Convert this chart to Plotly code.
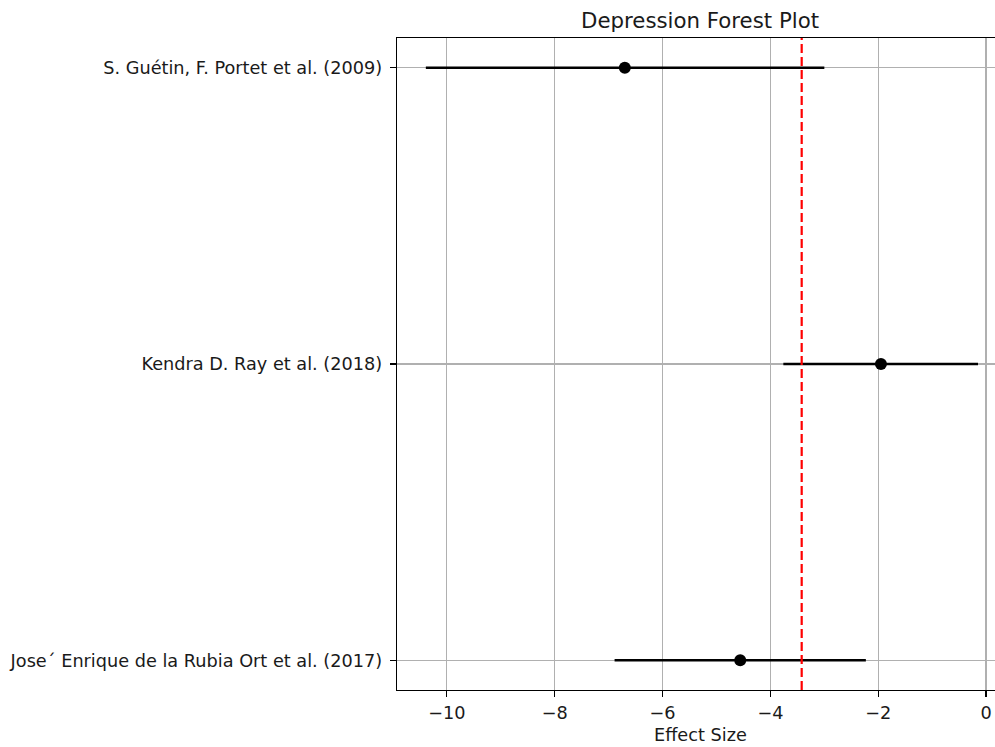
import plotly.graph_objects as go

studies = ["Jose\u00b4 Enrique de la Rubia Ort et al. (2017)",
           "Kendra D. Ray et al. (2018)",
           "S. Guétin, F. Portet et al. (2009)"]
effects = [-4.56, -1.95, -6.70]
ci_low = [-6.89, -3.76, -10.39]
ci_high = [-2.23, -0.15, -3.00]
pooled = -3.42
y_pos = [0, 1, 2]

fig = go.Figure()
fig.add_trace(go.Scatter(
    x=effects, y=y_pos, mode="markers",
    marker=dict(color="black", size=12),
    error_x=dict(type="data", symmetric=False,
                 array=[h - e for h, e in zip(ci_high, effects)],
                 arrayminus=[e - l for e, l in zip(effects, ci_low)],
                 color="black", thickness=2.5, width=0),
    showlegend=False, hoverinfo="skip"))

fig.add_shape(type="line", xref="x", yref="paper", x0=pooled, x1=pooled, y0=0, y1=1,
              line=dict(color="red", width=2.2, dash="9px,4px"))

font = dict(family="DejaVu Sans", size=17.7, color="#1a1a1a")
fig.update_layout(
    width=995, height=747,
    margin=dict(l=397, r=0, t=38, b=57),
    plot_bgcolor="white", paper_bgcolor="white",
    font=font,
    hovermode=False,
    xaxis=dict(range=[-10.925, 0.165], tickvals=[-10, -8, -6, -4, -2, 0],
               showgrid=True, gridcolor="#b0b0b0", gridwidth=1.2,
               showline=True, linecolor="black", linewidth=1.3, mirror=True,
               ticks="outside", ticklen=6, tickwidth=1.2, tickcolor="black", zeroline=False,
               tickfont=font),
    yaxis=dict(range=[-0.1, 2.1], tickvals=y_pos, ticktext=studies,
               showgrid=True, gridcolor="#b0b0b0", gridwidth=1.2,
               showline=True, linecolor="black", linewidth=1.3, mirror=False,
               ticks="outside", ticklen=6, tickwidth=1.2, tickcolor="black", zeroline=False,
               ticklabelstandoff=4, tickfont=font),
    annotations=[
        dict(text="Depression Forest Plot", xref="paper", yref="paper",
             x=0.507, y=1, yshift=18, xanchor="center", yanchor="middle",
             showarrow=False, font=dict(family="DejaVu Sans", size=21.3, color="#1a1a1a")),
        dict(text="Effect Size", xref="paper", yref="paper",
             x=0.507, y=0, yshift=-45, xanchor="center", yanchor="middle",
             showarrow=False, font=font),
    ],
)
fig.write_html("out.html", config={"displayModeBar": False, "staticPlot": True},
               post_script="document.body.style.margin='0';document.body.style.overflow='hidden';")
